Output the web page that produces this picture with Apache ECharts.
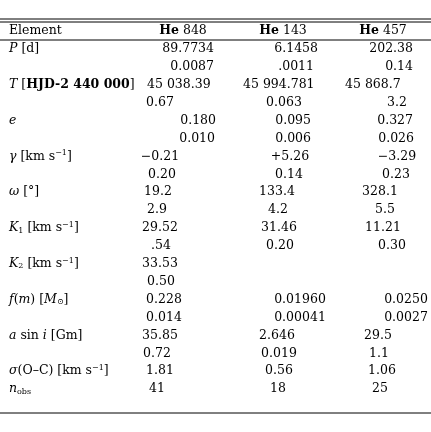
<!DOCTYPE html><html><head><meta charset="utf-8">
<script src="https://cdn.jsdelivr.net/npm/echarts@6/dist/echarts.min.js"></script>
<style>html,body{margin:0;background:#fff}#c{width:431px;height:432px}</style></head><body><div id="c"></div>
<script>
const headers=["Element","He 848","He 143","He 457"];
const rowLabels=["{i|P} [d]","","{i|T} [{b|HJD-2 440 000}]","","{i|e}","","{i|γ} [km s{s|−1}]","","{i|ω} [°]","","{i|K}{d|1} [km s{s|−1}]","","{i|K}{d|2} [km s{s|−1}]","","{i|f}({i|m}) [{i|M}{d|⊙}]","","{i|a} sin {i|i} [Gm]","","{i|σ}(O–C) [km s{s|−1}]","{i|n}{d|obs}"];
const col848=["89.7734","0.0087","45 038.39","0.67","0.180","0.010","−0.21","0.20","19.2","2.9","29.52",".54","33.53","0.50","0.228","0.014","35.85","0.72","1.81","41"];
const col143=["6.1458",".0011","45 994.781","0.063","0.095","0.006","+5.26","0.14","133.4","4.2","31.46","0.20","","","0.01960","0.00041","2.646","0.019","0.56","18"];
const col457=["202.38","0.14","45 868.7","3.2","0.327","0.026","−3.29","0.23","328.1","5.5","11.21","0.30","","","0.0250","0.0027","29.5","1.1","1.06","25"];
// layout: [x, align]
const pos848=[[214,'right'],[214,'right'],[147,'left'],[160,'center'],[216,'right'],[215,'right'],[160,'center'],[162,'center'],[158,'center'],[157,'center'],[160,'center'],[161,'center'],[160,'center'],[161,'center'],[164,'center'],[164,'center'],[160,'center'],[157,'center'],[160,'center'],[157,'center']];
const pos143=[[318,'right'],[314,'right'],[243,'left'],[284,'center'],[311,'right'],[311,'right'],[290,'center'],[289,'center'],[277,'center'],[278,'center'],[279,'center'],[280,'center'],[0,'center'],[0,'center'],[300,'center'],[300,'center'],[277,'center'],[279,'center'],[279,'center'],[278,'center']];
const pos457=[[413,'right'],[413,'right'],[345,'left'],[397,'center'],[413,'right'],[414,'right'],[397,'center'],[396,'center'],[380,'center'],[385,'center'],[383,'center'],[392,'center'],[0,'center'],[0,'center'],[406,'center'],[406,'center'],[378,'center'],[379,'center'],[382,'center'],[380,'center']];
const F='"DejaVu Serif","Liberation Serif",serif';
const FS=12.5;
const rich={i:{fontStyle:'italic',fontFamily:F,fontSize:FS,fill:'#000'},b:{fontWeight:'bold',fontFamily:F,fontSize:FS},s:{fontSize:8,fontFamily:F,verticalAlign:'top',padding:[0,0,6,0]},d:{fontSize:8,fontFamily:F,padding:[5,0,0,0]}};
const g=[];
function t(x,y,s,align){g.push({type:'text',x:x,y:y,style:{text:s,fontFamily:F,fontSize:FS,fill:'#000',align:align,verticalAlign:'middle',rich:rich}});}
function line(y,w){g.push({type:'line',shape:{x1:0,y1:y,x2:431,y2:y},style:{stroke:'#000',lineWidth:w||1}});}
line(19);line(22);line(40);line(413);
const hx=[[9,'left'],[183,'center'],[283,'center'],[383,'center']];
headers.forEach((h,i)=>t(hx[i][0],31,i?'{b|He} '+h.slice(3):h,hx[i][1]));
const y0=49,dy=17.9;
rowLabels.forEach((l,r)=>{const y=y0+r*dy;
 if(l)t(9,y,l,'left');
 [[col848,pos848],[col143,pos143],[col457,pos457]].forEach(([c,p])=>{if(c[r])t(p[r][0],y,c[r],p[r][1]);});
});
const ch=echarts.init(document.getElementById('c'));
ch.setOption({animation:false,graphic:g});
</script></body></html>
